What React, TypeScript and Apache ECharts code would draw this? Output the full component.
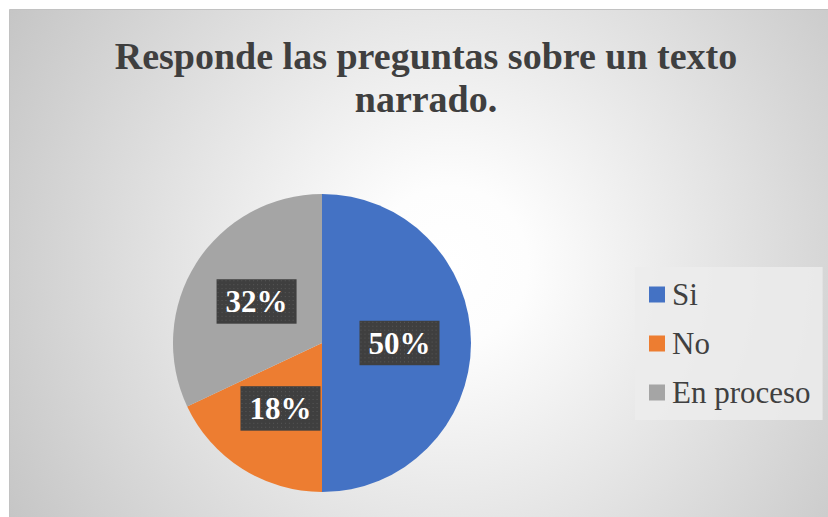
import React, { useEffect, useRef } from "react";
import * as echarts from "echarts";

const titleLines = ["Responde las preguntas sobre un texto", "narrado."];
const categories = ["Si", "No", "En proceso"];
const values = [50, 18, 32];
const colors = ["#4472C4", "#ED7D31", "#A5A5A5"];

const SERIF = "'Liberation Serif', 'Times New Roman', serif";

function makePattern(w: number, h: number): string {
  const c = document.createElement("canvas");
  c.width = w;
  c.height = h;
  const ctx = c.getContext("2d");
  if (!ctx) return "";
  ctx.fillStyle = "#3f3f3f";
  ctx.fillRect(0, 0, w, h);
  ctx.fillStyle = "#595959";
  for (let y = 1; y < h; y += 4) {
    for (let x = 1; x < w; x += 4) {
      ctx.fillRect(x, y, 1, 1);
    }
  }
  return c.toDataURL();
}

export default function App() {
  const ref = useRef<HTMLDivElement>(null);
  useEffect(() => {
    document.body.style.margin = "0";
    if (!ref.current) return;
    const chart = echarts.init(ref.current, null, { renderer: "svg" });
    const pattern = makePattern(81, 45);
    chart.setOption({
      animation: false,
      graphic: [
        {
          type: "rect",
          z: -10,
          silent: true,
          shape: { x: 9.5, y: 9.5, width: 830, height: 520 },
          style: {
            fill: {
              type: "radial",
              x: 450,
              y: 265,
              r: 520,
              global: true,
              colorStops: [
                { offset: 0, color: "#ffffff" },
                { offset: 0.15, color: "#fdfdfd" },
                { offset: 1, color: "#c4c4c4" },
              ],
            },
            stroke: "#c2c2c2",
            lineWidth: 1,
          },
        },
        {
          type: "text",
          x: 426,
          y: 56,
          silent: true,
          style: {
            text: titleLines[0],
            fill: "#3f3f3f",
            font: "bold 38px " + SERIF,
            textAlign: "center",
            textVerticalAlign: "middle",
          },
        },
        {
          type: "text",
          x: 426,
          y: 99,
          silent: true,
          style: {
            text: titleLines[1],
            fill: "#3f3f3f",
            font: "bold 38px " + SERIF,
            textAlign: "center",
            textVerticalAlign: "middle",
          },
        },
      ],
      legend: {
        orient: "vertical",
        left: 635,
        top: 267,
        padding: [12, 12, 12, 14],
        backgroundColor: "rgba(236,236,236,0.85)",
        itemWidth: 16,
        itemHeight: 16,
        itemGap: 18,
        icon: "rect",
        selectedMode: false,
        data: categories,
        textStyle: {
          fontFamily: SERIF,
          fontSize: 31,
          lineHeight: 31,
          color: "#404040",
          padding: [0, 0, 0, 2],
        },
      },
      series: [
        {
          type: "pie",
          center: [322, 343],
          radius: 149,
          startAngle: 90,
          clockwise: true,
          silent: true,
          emphasis: { disabled: true },
          data: categories.map((name, i) => ({
            name,
            value: values[i],
            itemStyle: { color: colors[i] },
          })),
          label: {
            show: true,
            position: "inside",
            formatter: (p: any) => p.value + "%",
            color: "#ffffff",
            fontFamily: SERIF,
            fontWeight: "bold",
            fontSize: 31,
            lineHeight: 31,
            padding: [7, 9],
            backgroundColor: pattern ? { image: pattern } : "#404040",
            shadowColor: "rgba(0,0,0,0.45)",
            shadowBlur: 6,
            shadowOffsetX: 3,
            shadowOffsetY: 3,
          },
          labelLine: { show: false },
        },
      ],
    });
    return () => chart.dispose();
  }, []);
  return <div ref={ref} style={{ width: 828, height: 517 }} />;
}
